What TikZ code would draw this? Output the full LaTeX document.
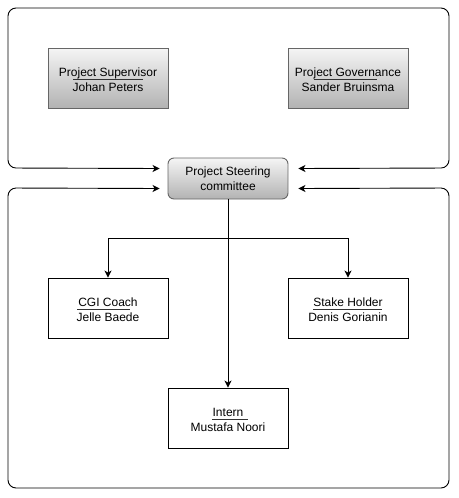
\documentclass[tikz,border=0pt]{standalone}
\usepackage{fontspec}
\setmainfont{Liberation Sans}
\usetikzlibrary{arrows.meta,positioning,calc}
\newcommand{\lift}{\rule{0pt}{13pt}}
\begin{document}
\begin{tikzpicture}[x=1pt,y=-1pt,
  font=\fontsize{12}{15}\selectfont,
  arr/.style={-{Stealth[length=7pt,width=7pt,inset=2pt]}, line width=0.9pt},
  gbox/.style={draw=black!60, line width=0.9pt, top color=black!4, bottom color=black!30, minimum width=120pt, minimum height=60pt, align=center, inner sep=0pt},
  wbox/.style={draw=black, line width=0.9pt, fill=white, minimum width=120pt, minimum height=60pt, align=center, inner sep=0pt},
  sbox/.style={draw=black!60, line width=0.9pt, rounded corners=6pt, top color=black!4, bottom color=black!30, minimum width=120pt, minimum height=41pt, align=center, inner sep=0pt},
  cont/.style={{Stealth[length=7pt,width=7pt,inset=2pt]}-{Stealth[length=7pt,width=7pt,inset=2pt]}, line width=0.9pt, rounded corners=8pt},
  uline/.style={line width=0.6pt, black!80}]
\useasboundingbox (0,0) rectangle (458,498);

\node[gbox] (ps) at (108,78) {\lift Project Supervisor\\Johan Peters};
\node[gbox] (pg) at (348,78) {\lift Project Governance\\Sander Bruinsma};
\node[sbox] (st) at (228,178.5) {Project Steering\\committee};
\node[wbox] (cgi) at (108,308) {\lift CGI Coach\\Jelle Baede};
\node[wbox] (sh) at (348,308) {\lift Stake Holder\\Denis Gorianin};
\node[wbox] (in) at (228,418) {\lift Intern\\Mustafa Noori};

% separator lines under first text lines
\draw[uline] ([xshift=-35pt,yshift=-1pt]ps.center) -- ++(70,0);
\draw[uline] ([xshift=-34.5pt,yshift=-1pt]pg.center) -- ++(63,0);
\draw[uline] ([xshift=-31pt,yshift=-1pt]cgi.center) -- ++(53,0);
\draw[uline] ([xshift=-35pt,yshift=-1pt]sh.center) -- ++(69,0);
\draw[uline] ([xshift=-16pt,yshift=-1pt]in.center) -- ++(36,0);

% containers (open paths ending with arrows at the steering node)
\coordinate (tl) at ([xshift=-8pt,yshift=10pt]st.west);
\coordinate (tr) at ([xshift=10pt,yshift=10pt]st.east);
\coordinate (bl) at ([xshift=-8pt,yshift=-10pt]st.west);
\coordinate (br) at ([xshift=10pt,yshift=-10pt]st.east);
\draw[cont] (tl) -- (8,168) -- (8,8) -- (449,8) -- (449,168) -- (tr);
\draw[cont] (bl) -- (8,188) -- (8,488) -- (449,488) -- (449,188) -- (br);

% connectors
\draw[arr] (st.south) -- (in.north);
\draw[arr] (st.south) -- ++(0,39) -| (cgi.north);
\draw[arr] (st.south) -- ++(0,39) -| (sh.north);
\end{tikzpicture}
\end{document}
